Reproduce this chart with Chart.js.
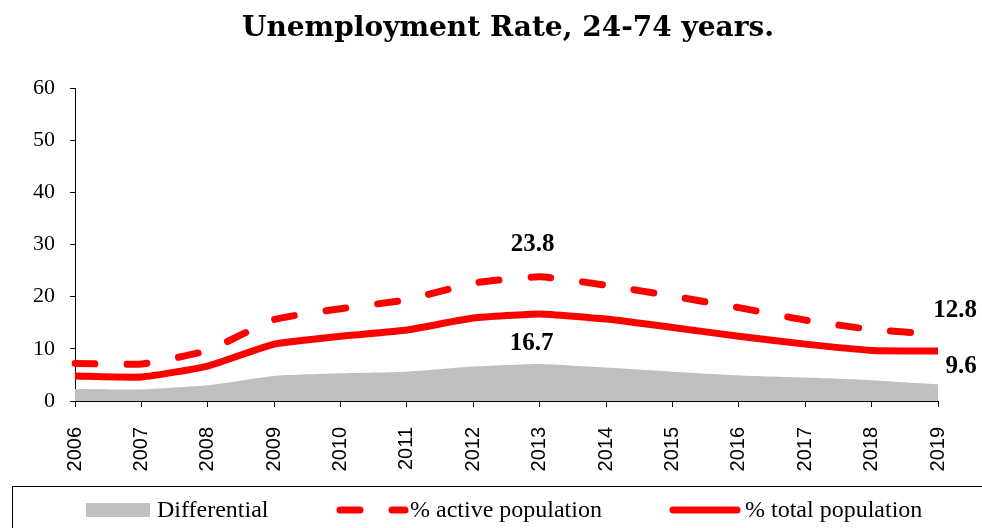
<!DOCTYPE html>
<html>
<head>
<meta charset="utf-8">
<script src="https://cdn.jsdelivr.net/npm/chart.js@4.4.1/dist/chart.umd.min.js"></script>
<style>
  html, body { margin: 0; padding: 0; background: #fff; }
  #wrap { width: 982px; height: 528px; position: relative; }
</style>
</head>
<body>
<div id="wrap"><canvas id="unemploymentChart"></canvas></div>
<script>
const YEARS = ['2006', '2007', '2008', '2009', '2010', '2011', '2012', '2013', '2014', '2015', '2016', '2017', '2018', '2019'];
const DIFFERENTIAL = [2.3, 2.2, 3.0, 4.8, 5.3, 5.6, 6.6, 7.1, 6.4, 5.6, 4.9, 4.5, 4.0, 3.2];
const ACTIVE_POP = [7.2, 7.1, 9.7, 15.6, 17.7, 19.4, 22.6, 23.8, 22.2, 20.1, 17.9, 15.5, 13.7, 12.8];
const TOTAL_POP = [4.8, 4.6, 6.7, 10.9, 12.4, 13.6, 15.9, 16.7, 15.7, 14.1, 12.4, 10.9, 9.7, 9.6];
const LEGEND_LABELS = ['Differential', '% active population', '% total population'];
const TITLE = 'Unemployment Rate, 24-74 years.';

const RED = '#FF0000';
const GREY = '#BFBFBF';

// value labels: [dataset index, point index, dx, dy]
const VALUE_LABELS = [
  [1, 7, -7, -32],
  [2, 7, -8, 30],
  [1, 13, 17, -24],
  [2, 13, 23, 16],
];

const extrasPlugin = {
  id: 'extras',
  afterDatasetsDraw(chart) {
    const { ctx } = chart;
    ctx.save();
    ctx.fillStyle = '#000';
    ctx.textAlign = 'center';
    ctx.textBaseline = 'middle';
    ctx.font = 'bold 25px "Liberation Serif"';
    VALUE_LABELS.forEach(([ds, i, dx, dy]) => {
      const pt = chart.getDatasetMeta(ds).data[i];
      const v = chart.data.datasets[ds].data[i];
      ctx.fillText(v.toFixed(1), pt.x + dx, pt.y + dy);
    });
    ctx.restore();
  },
  afterDraw(chart) {
    const { ctx } = chart;
    ctx.save();
    // title
    ctx.fillStyle = '#000';
    ctx.textAlign = 'center';
    ctx.textBaseline = 'middle';
    ctx.font = 'bold 28px "DejaVu Serif"';
    ctx.fillText(TITLE, 508, 29);

    // legend box
    ctx.strokeStyle = '#000';
    ctx.lineWidth = 1;
    ctx.strokeRect(12.5, 486.5, 1000, 80);

    const cy = 510;
    ctx.fillStyle = GREY;
    ctx.fillRect(86, 503, 64, 14);

    ctx.strokeStyle = RED;
    ctx.lineWidth = 7;
    ctx.lineCap = 'round';
    ctx.setLineDash([20, 32]);
    ctx.beginPath();
    ctx.moveTo(340, cy);
    ctx.lineTo(405, cy);
    ctx.stroke();
    ctx.setLineDash([]);
    ctx.beginPath();
    ctx.moveTo(673, cy);
    ctx.lineTo(737, cy);
    ctx.stroke();

    ctx.fillStyle = '#000';
    ctx.textAlign = 'left';
    ctx.font = '24px "Liberation Serif"';
    ctx.fillText(LEGEND_LABELS[0], 157, cy + 1);
    ctx.fillText(LEGEND_LABELS[1], 410, cy + 1);
    ctx.fillText(LEGEND_LABELS[2], 745, cy + 1);
    ctx.restore();
  },
};

const data = {
  labels: YEARS,
  datasets: [
    {
      label: LEGEND_LABELS[0],
      data: DIFFERENTIAL,
      backgroundColor: GREY,
      borderWidth: 0,
      pointRadius: 0,
      fill: 'origin',
      tension: 0.15,
    },
    {
      label: LEGEND_LABELS[1],
      data: ACTIVE_POP,
      borderColor: RED,
      borderWidth: 7,
      borderDash: [20, 32],
      borderCapStyle: 'round',
      pointRadius: 0,
      fill: false,
      tension: 0.15,
    },
    {
      label: LEGEND_LABELS[2],
      data: TOTAL_POP,
      borderColor: RED,
      borderWidth: 7,
      pointRadius: 0,
      fill: false,
      tension: 0.15,
    },
  ],
};

const config = {
  type: 'line',
  data,
  options: {
    responsive: true,
    maintainAspectRatio: false,
    animation: false,
    layout: {
      padding: { top: 88, left: 0, right: 40, bottom: 42 },
    },
    scales: {
      x: {
        offset: false,
        border: { display: true, color: '#000', width: 1 },
        grid: { drawOnChartArea: false, drawTicks: true, tickLength: 6, color: '#000' },
        ticks: {
          color: '#000',
          maxRotation: 90,
          minRotation: 90,
          padding: 20,
          font: { family: '"Liberation Sans"', size: 20 },
        },
        afterFit: (scale) => { scale.height = 85; },
      },
      y: {
        min: 0,
        max: 60,
        border: { display: true, color: '#000', width: 1 },
        grid: { drawOnChartArea: false, drawTicks: true, tickLength: 5, color: '#000' },
        ticks: {
          stepSize: 10,
          color: '#000',
          padding: 15,
          font: { family: '"Liberation Serif"', size: 22 },
        },
        afterFit: (scale) => { scale.width = 75; },
      },
    },
    plugins: {
      legend: { display: false },
      title: { display: false },
      tooltip: { enabled: false },
    },
  },
  plugins: [extrasPlugin],
};

new Chart(document.querySelector('#unemploymentChart'), config);
</script>
</body>
</html>
